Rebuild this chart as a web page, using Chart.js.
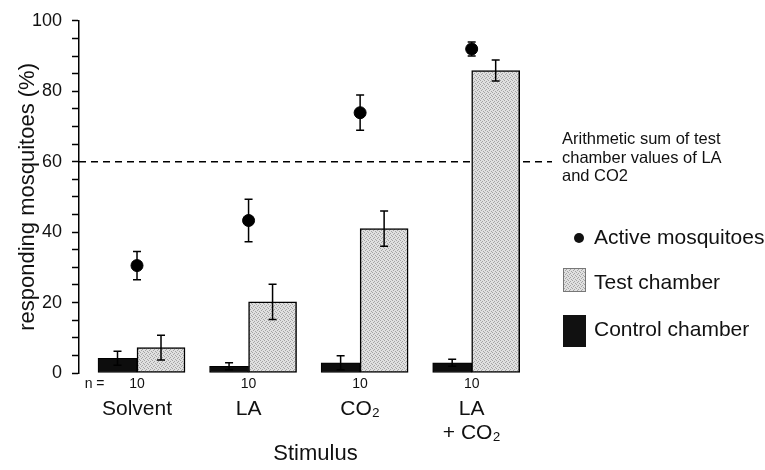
<!DOCTYPE html>
<html>
<head>
<meta charset="utf-8">
<title>Responding mosquitoes</title>
<script src="https://cdn.jsdelivr.net/npm/chart.js@4.4.1/dist/chart.umd.min.js"></script>
<style>
  html, body { margin: 0; padding: 0; background: #fff; }
  #wrap { width: 765px; height: 470px; }
</style>
</head>
<body>
<div id="wrap"><canvas id="chart" width="765" height="470"></canvas></div>
<script>
// stimuli sit at x = 0..3 on a linear axis
const stimuli = [['Solvent'], ['LA'], ['CO₂'], ['LA', '+ CO₂']];
const nValues = ['10', '10', '10', '10'];

// % responding mosquitoes, +- error
const controlChamber = [4.2, 1.9, 2.9, 2.9];
const controlErr = [2.0, 1.0, 2.0, 1.0];
const testChamber = [7.2, 20.2, 41.0, 85.9];
const testErr = [3.5, 5.0, 5.0, 3.0];
const activeMosquitoes = [30.5, 43.3, 73.9, 92.0];
const activeErr = [4.0, 6.0, 5.0, 2.0];

const arithmeticSum = 60;
const yLabelTicks = [0, 20, 40, 60, 80, 100];
const noteLines = ['Arithmetic sum of test', 'chamber values of LA', 'and CO2'];

const xMin = -0.52, xMax = 3.72, nLabelPos = -0.38;
const FONT = '"Liberation Sans", Arial, Helvetica, sans-serif';
Chart.defaults.font.family = FONT;
Chart.defaults.color = '#111';

const canvas = document.getElementById('chart');
const ctx = canvas.getContext('2d');

// light grey stipple like the printed bars
function stipple() {
  const c = document.createElement('canvas');
  c.width = 4; c.height = 4;
  const g = c.getContext('2d');
  g.fillStyle = '#e0e0e0';
  g.fillRect(0, 0, 4, 4);
  g.fillStyle = '#a4a4a4';
  g.fillRect(0, 0, 1, 1);
  g.fillRect(2, 1, 1, 1);
  g.fillRect(1, 2, 1, 1);
  g.fillRect(3, 3, 1, 1);
  return ctx.createPattern(c, 'repeat');
}
const testFill = stipple();

const pts = arr => arr.map((v, i) => ({ x: i, y: v }));

const errorBars = {
  id: 'errorBars',
  afterDatasetsDraw(chart) {
    const c = chart.ctx, y = chart.scales.y;
    chart.data.datasets.forEach((ds, i) => {
      if (!ds.errors) return;
      const meta = chart.getDatasetMeta(i);
      c.save();
      c.strokeStyle = '#000';
      c.lineWidth = 1.5;
      meta.data.forEach((el, j) => {
        const v = ds.data[j].y, e = ds.errors[j];
        const top = y.getPixelForValue(v + e), bot = y.getPixelForValue(v - e);
        c.beginPath();
        c.moveTo(el.x, top); c.lineTo(el.x, bot);
        c.moveTo(el.x - 4, top); c.lineTo(el.x + 4, top);
        c.moveTo(el.x - 4, bot); c.lineTo(el.x + 4, bot);
        c.stroke();
      });
      c.restore();
    });
  }
};

const sideNotes = {
  id: 'sideNotes',
  afterDraw(chart) {
    const c = chart.ctx, a = chart.chartArea, y = chart.scales.y;
    c.save();
    c.fillStyle = '#111';
    c.textBaseline = 'middle';
    c.textAlign = 'left';

    // note next to the dashed line
    const ly = y.getPixelForValue(arithmeticSum);
    c.font = '16.5px ' + FONT;
    noteLines.forEach((t, i) => c.fillText(t, a.right + 10, ly - 22 + i * 18.5));

    // legend
    const bx = a.right + 11, tx = a.right + 42;
    c.font = '21px ' + FONT;
    c.beginPath();
    c.arc(a.right + 27, 238, 5, 0, Math.PI * 2);
    c.fill();
    c.fillText('Active mosquitoes', tx, 238);

    c.fillStyle = testFill;
    c.fillRect(bx, 268, 23, 24);
    c.strokeStyle = '#777';
    c.lineWidth = 1;
    c.strokeRect(bx + 0.5, 268.5, 22, 23);
    c.fillStyle = '#111';
    c.fillText('Test chamber', tx, 283);

    c.fillRect(bx, 315, 23, 32);
    c.fillText('Control chamber', tx, 330);
    c.restore();
  }
};

new Chart(ctx, {
  data: {
    datasets: [
      {
        type: 'line',
        label: 'Active mosquitoes',
        data: pts(activeMosquitoes),
        errors: activeErr,
        showLine: false,
        pointRadius: 6,
        pointHoverRadius: 6,
        pointBackgroundColor: '#000',
        pointBorderColor: '#000'
      },
      {
        type: 'bar',
        label: 'Control chamber',
        data: pts(controlChamber),
        errors: controlErr,
        backgroundColor: '#0d0d0d',
        borderColor: '#000',
        borderWidth: 1,
        borderSkipped: false,
        barThickness: 39
      },
      {
        type: 'bar',
        label: 'Test chamber',
        data: pts(testChamber),
        errors: testErr,
        backgroundColor: testFill,
        borderColor: '#000',
        borderWidth: 1.5,
        borderSkipped: false,
        barThickness: 48
      },
      {
        type: 'line',
        label: 'Arithmetic sum',
        data: [{ x: xMin, y: arithmeticSum }, { x: xMax, y: arithmeticSum }],
        borderColor: '#000',
        borderWidth: 1.5,
        borderDash: [7, 5],
        pointRadius: 0
      }
    ]
  },
  options: {
    responsive: false,
    animation: false,
    layout: { padding: { top: 15, right: 213, bottom: 0, left: 0 } },
    plugins: { legend: { display: false }, tooltip: { enabled: false } },
    scales: {
      x: {
        type: 'linear',
        position: 'bottom',
        weight: 0,
        min: xMin,
        max: xMax,
        offset: false,
        afterBuildTicks: s => {
          s.ticks = [{ value: nLabelPos }].concat(nValues.map((_, i) => ({ value: i })));
        },
        ticks: {
          autoSkip: false,
          maxRotation: 0,
          padding: 3,
          color: '#111',
          font: { size: 14 },
          callback: v => (v < 0 ? 'n =' : nValues[v])
        },
        grid: { display: false, drawTicks: false },
        border: { display: false },
        afterFit: s => { s.height = 22; }
      },
      x2: {
        type: 'linear',
        axis: 'x',
        position: 'bottom',
        weight: 1,
        min: xMin,
        max: xMax,
        offset: false,
        afterBuildTicks: s => {
          s.ticks = stimuli.map((_, i) => ({ value: i }));
        },
        ticks: {
          autoSkip: false,
          maxRotation: 0,
          padding: 2,
          color: '#111',
          font: { size: 21, lineHeight: 1.14 },
          callback: v => stimuli[v]
        },
        grid: { display: false, drawTicks: false },
        border: { display: false },
        title: {
          display: true,
          text: 'Stimulus',
          color: '#111',
          font: { size: 22 },
          padding: { top: 0, bottom: 3 }
        },
        afterFit: s => { s.height = 75; }
      },
      y: {
        min: 0,
        max: 100,
        ticks: {
          stepSize: 5,
          autoSkip: false,
          padding: 10,
          color: '#111',
          font: { size: 18 },
          callback: v => (yLabelTicks.includes(v) ? v : '')
        },
        grid: { drawOnChartArea: false, tickLength: 7, tickColor: '#000', tickWidth: 1.5 },
        border: { color: '#000', width: 1.5 },
        title: {
          display: true,
          text: 'responding mosquitoes (%)',
          color: '#111',
          font: { size: 22 },
          padding: { top: 15, bottom: 0 }
        },
        afterFit: s => { s.width = 79; }
      }
    }
  },
  plugins: [errorBars, sideNotes]
});
</script>
</body>
</html>
